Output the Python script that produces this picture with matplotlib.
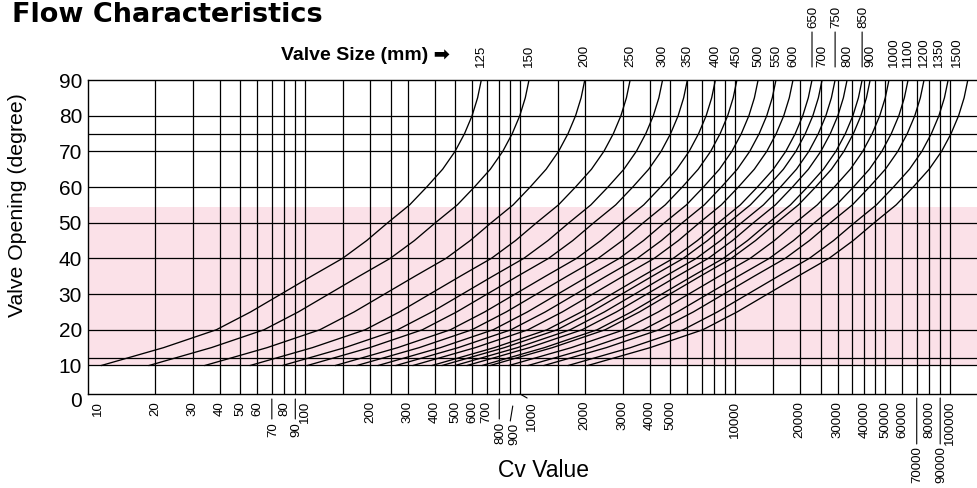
import numpy as np
import matplotlib
matplotlib.use('Agg')
from matplotlib import pyplot as plt
from matplotlib.ticker import NullLocator
from matplotlib.transforms import ScaledTranslation

plt.rcParams['font.family'] = ['Liberation Sans', 'DejaVu Sans']

sizes = [125, 150, 200, 250, 300, 350, 400, 450, 500, 550, 600,
         650, 700, 750, 800, 850, 900, 1000, 1100, 1200, 1350, 1500]
rated_cv = [660, 1100, 2000, 3250, 4600, 6000, 8100, 10200, 12800, 15500, 18600,
            22800, 25400, 29200, 33200, 39000, 42500, 52000, 63800, 75700, 98000, 121000]

# Inherent characteristic: Cv in % of rated Cv vs opening angle
angles = [10, 15, 20, 25, 30, 35, 40, 45, 50, 55, 60, 65, 70, 75, 80, 85, 90]
cv_pct = [1.71, 3.33, 5.85, 8.45, 11.7, 16.2, 22.6, 29.3, 36.7, 46.4, 55.7,
          66.1, 75.5, 83.6, 90.6, 96.1, 100]

# grid
grid_cv = [20, 30, 40, 50, 60, 70, 80, 90, 100, 150, 200, 250, 300, 400, 500, 600,
           700, 800, 900, 1000, 1500, 2000, 3000, 4000, 5000, 6000, 7000, 8000,
           9000, 10000, 15000, 20000, 25000, 30000, 35000, 40000, 45000, 50000,
           60000, 70000, 80000, 90000, 100000]
grid_deg = [10, 12, 20, 30, 40, 50, 60, 70, 75, 80]
y_ticks = [10, 20, 30, 40, 50, 60, 70, 80, 90]

# bottom labels
main_ticks = [20, 30, 40, 50, 60, 80, 100, 200, 300, 400, 500, 600, 700, 2000, 3000,
              4000, 5000, 10000, 20000, 30000, 40000, 50000, 60000, 80000, 100000]
lower_ticks = [70, 90, 800, 900]
lowest_ticks = [70000, 90000]
upper_sizes = [650, 750, 850]

pink_range = (10, 54.5)

W, H = 977, 488
fig = plt.figure(figsize=(W / 100, H / 100), dpi=100)
ax = fig.add_axes([88 / W, 94 / H, 889 / W, 314 / H])
ax.set_xscale('log')
ax.set_xlim(9.77, 133500)
ax.set_ylim(2, 90)
ax.xaxis.set_minor_locator(NullLocator())
ax.yaxis.set_minor_locator(NullLocator())

ax.axhspan(pink_range[0], pink_range[1], color='#fbe1e8', lw=0, zorder=0)
for v in grid_cv:
    ax.axvline(v, color='black', lw=0.9, zorder=1)
for a in grid_deg:
    ax.axhline(a, color='black', lw=0.9, zorder=1)

pct = np.array(cv_pct) / 100.0
for size, cv90 in zip(sizes, rated_cv):
    ax.plot(cv90 * pct, angles, color='black', lw=0.95, zorder=2)

for s in ['left', 'bottom', 'top']:
    ax.spines[s].set_linewidth(1.0)
ax.spines['right'].set_visible(False)

ax.set_xticks(main_ticks, [str(t) for t in main_ticks])
ax.tick_params(axis='x', length=0, pad=5, labelsize=9.5, labelrotation=90)
ax.set_yticks(y_ticks, [str(t) for t in y_ticks])
ax.tick_params(axis='y', length=0, pad=4.3, labelsize=15)

xt = ax.get_xaxis_transform()
yt = ax.get_yaxis_transform()


def label(text, cv, dx, dy, top=False):
    # dx, dy in pixels (up is positive)
    ax.annotate(text, xy=(cv, 1 if top else 0), xycoords=xt,
                xytext=(dx * 0.72, dy * 0.72), textcoords='offset points',
                rotation=90, ha='center', va='bottom' if top else 'top',
                fontsize=9.5, annotation_clip=False)


def bar(cv, x0, y0, x1, y1, top=False):
    tr = xt + ScaledTranslation(x0 / 100, y0 / 100, fig.dpi_scale_trans)
    ax.annotate('', xy=(cv, 1 if top else 0), xycoords=tr,
                xytext=((x1 - x0) * 0.72, (y1 - y0) * 0.72), textcoords='offset points',
                arrowprops=dict(arrowstyle='-', lw=0.8, color='black',
                                shrinkA=0, shrinkB=0),
                annotation_clip=False)


# shifted labels
label('10', 10, 8, -7)
label('1000', 1000, 12, -7)
bar(1000, 0, 0, 7, -4)

for t in lower_ticks:
    if t == 900:
        label(str(t), t, 4, -29)
        bar(t, 2.5, -12, 0, -27)
    else:
        label(str(t), t, 1, -28)
        bar(t, 0, -5, 0, -25)
for t in lowest_ticks:
    label(str(t), t, 1, -52)
    bar(t, 0, -4, 0, -50)

# valve size labels along the top (the crowded right end is squeezed a little)
top_shift = {1000: 5, 1350: -9, 1500: -11}
for size, cv90 in zip(sizes, rated_cv):
    if size in upper_sizes:
        label(str(size), cv90, 1, 52, top=True)
        bar(cv90, 0, 13, 0, 48, top=True)
    else:
        label(str(size), cv90, top_shift.get(size, 0), 13, top=True)

ax.annotate('0', xy=(0, 0), xycoords=yt, xytext=(-4.3, 0), textcoords='offset points',
            ha='right', va='center', fontsize=15, annotation_clip=False)

fig.text(12 / W, 1 - 21.7 / H, 'Flow Characteristics', fontsize=19.5,
         fontweight='bold', family='DejaVu Sans', va='baseline', ha='left')
fig.text(450 / W, 1 - 56 / H, 'Valve Size (mm) \u27a1', fontsize=14, fontweight='bold',
         family=['Liberation Sans', 'DejaVu Sans'], va='center', ha='right')
fig.text(543 / W, 1 - 477 / H, 'Cv Value', fontsize=16.5, va='baseline', ha='center')
fig.text(18 / W, 1 - 205 / H, 'Valve Opening (degree)', fontsize=15.3, rotation=90,
         va='center', ha='center')

fig.savefig('out.png', dpi=100)
